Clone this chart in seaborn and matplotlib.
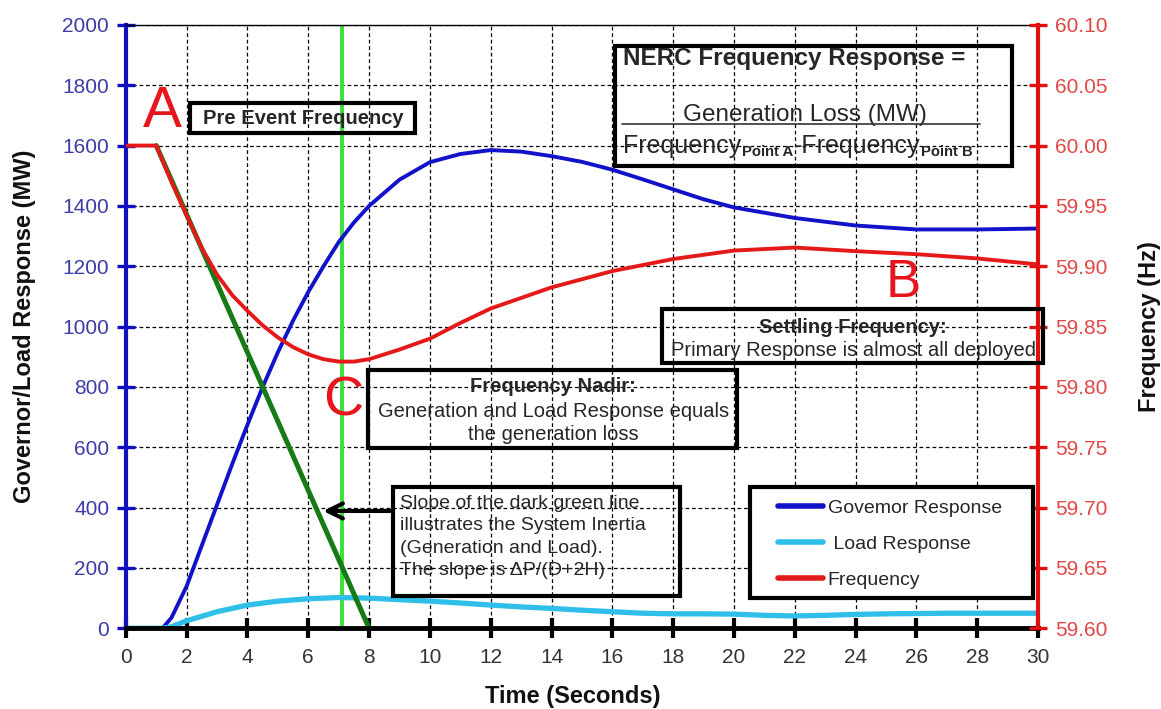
import matplotlib
matplotlib.use("Agg")
import matplotlib.pyplot as plt
import seaborn as sns
from matplotlib.patches import Rectangle
from matplotlib.lines import Line2D

# ---- series ------------------------------------------------------------
gov_time = [0, 1.2, 1.5, 2, 2.5, 3, 3.5, 4, 4.5, 5, 5.5, 6, 6.5, 7, 7.5, 8, 9, 10,
            11, 12, 13, 14, 15, 16, 17, 18, 19, 20, 22, 24, 26, 28, 30]
gov_mw = [0, 0, 35, 140, 275, 410, 545, 675, 800, 915, 1020, 1115, 1200, 1280, 1345,
          1400, 1487, 1545, 1572, 1585, 1580, 1565, 1546, 1520, 1488, 1455, 1422,
          1395, 1360, 1335, 1322, 1322, 1325]

load_time = [0, 1.2, 1.5, 2, 3, 4, 5, 6, 7, 8, 9, 10, 11, 12, 13, 14, 15, 16, 17,
             18, 19, 20, 21, 22, 23, 24, 25, 26, 27, 28, 29, 30]
load_mw = [0, 0, 5, 25, 55, 77, 90, 98, 102, 100, 95, 90, 84, 77, 71, 66, 60, 55,
           50, 48, 48, 47, 43, 41, 43, 46, 48, 49, 50, 50, 50, 50]

freq_time = [0, 1, 1.5, 2, 2.5, 3, 3.5, 4, 4.5, 5, 5.5, 6, 6.5, 7, 7.5, 8, 9, 10,
             11, 12, 14, 16, 18, 20, 22, 24, 26, 28, 30]
freq_hz = [60.00, 60.00, 59.970, 59.942, 59.915, 59.893, 59.876, 59.863, 59.851,
           59.841, 59.833, 59.827, 59.823, 59.821, 59.821, 59.823, 59.831, 59.840,
           59.853, 59.865, 59.8825, 59.896, 59.906, 59.913, 59.9155, 59.9125,
           59.910, 59.9065, 59.9015]

# system inertia line (point A down to zero) and the nadir time marker
inertia_time = [1, 8]
inertia_mw = [1600, 0]
nadir_time = 7.1

time_ticks = list(range(0, 31, 2))
mw_ticks = list(range(0, 2001, 200))
hz_ticks = [59.60, 59.65, 59.70, 59.75, 59.80, 59.85, 59.90, 59.95, 60.00, 60.05, 60.10]

legend_labels = ["Govemor Response", " Load Response", "Frequency"]

# ---- style -------------------------------------------------------------
sns.set_theme(style="white")
plt.rcParams["font.family"] = ["Liberation Sans", "DejaVu Sans"]

GOV = "#1212c8"
LOAD = "#2fbfe8"
FREQ = "#e41a1a"
DARK_GREEN = "#167a16"
LIGHT_GREEN = "#3ae03a"
BLUE_AXIS = "#1010c0"
RED_AXIS = "#e01010"
TXT = "#262626"
LETTER = "#e8141e"

fig = plt.figure(figsize=(11.61, 7.09), dpi=100)
ax = fig.add_axes([0.1084, 0.1138, 0.7857, 0.8511])
ax2 = ax.twinx()

# ---- MW axis lines -----------------------------------------------------
sns.lineplot(x=gov_time, y=gov_mw, ax=ax, color=GOV, linewidth=2.8, sort=False)
sns.lineplot(x=load_time, y=load_mw, ax=ax, color=LOAD, linewidth=3.8, sort=False)
sns.lineplot(x=inertia_time, y=inertia_mw, ax=ax, color=DARK_GREEN, linewidth=3.6, sort=False)
ax.axvline(nadir_time, color=LIGHT_GREEN, linewidth=2.8, zorder=1.9)

# ---- frequency axis line -----------------------------------------------
sns.lineplot(x=freq_time, y=freq_hz, ax=ax2, color=FREQ, linewidth=2.8, sort=False)

ax.set_xlim(0, 30)
ax.set_ylim(0, 2000)
ax2.set_ylim(59.60, 60.10)
ax.set_xticks(time_ticks)
ax.set_yticks(mw_ticks)
ax2.set_yticks(hz_ticks)
ax2.set_yticklabels([f"{v:.2f}" for v in hz_ticks])

ax.grid(True, color="black", linestyle=(0, (3, 2.2)), linewidth=0.9)
ax.set_axisbelow(True)

for s in ("left", "right", "top", "bottom"):
    ax2.spines[s].set_visible(False)
ax.spines["right"].set_visible(False)
ax2.spines["right"].set_visible(True)
ax2.spines["right"].set_color(RED_AXIS)
ax2.spines["right"].set_linewidth(3)
ax.spines["left"].set_color(BLUE_AXIS)
ax.spines["left"].set_linewidth(3)
ax.spines["bottom"].set_color("black")
ax.spines["bottom"].set_linewidth(3.5)
ax.spines["top"].set_color("black")
ax.spines["top"].set_linewidth(1)

ax.tick_params(axis="y", left=True, direction="inout", length=13, width=2.4,
               color=BLUE_AXIS, labelcolor="#3c3ca8", labelsize=15, pad=5.5)
ax.tick_params(axis="x", bottom=True, direction="inout", length=14, width=3,
               color="black", labelcolor="#333333", labelsize=15, pad=7)
ax2.tick_params(axis="y", right=True, direction="inout", length=13, width=2.4,
                color=RED_AXIS, labelcolor="#e04848", labelsize=15, pad=6)

ax.set_xlabel("Time (Seconds)", fontsize=17, fontweight="bold", color="#111111")
ax.xaxis.set_label_coords(0.49, -0.094)
ax.set_ylabel("Governor/Load Response (MW)", fontsize=17, fontweight="bold", color="#111111")
ax.yaxis.set_label_coords(-0.098, 0.5)
ax2.set_ylabel("Frequency (Hz)", fontsize=17, fontweight="bold", color="#111111")
ax2.yaxis.set_label_coords(1.1096, 0.5)

for a in (ax, ax2):
    lg = a.get_legend()
    if lg is not None:
        lg.remove()

# ---- annotations (placed in time / MW coordinates) ---------------------
tr = ax.transData


def frame(x0, y0, x1, y1, fill=False):
    r = Rectangle((x0, y0), x1 - x0, y1 - y0, transform=tr, fill=fill,
                  facecolor="white", edgecolor="black", linewidth=3,
                  clip_on=False, zorder=4)
    ax2.add_patch(r)


def label(x, y, s, size=14.5, weight="normal", ha="center", color=TXT):
    return ax2.text(x, y, s, transform=tr, fontsize=size, fontweight=weight, ha=ha,
                    va="center", color=color, zorder=6, clip_on=False)


# point letters
label(1.2, 1710, "A", size=42, color=LETTER)
label(25.56, 1145, "B", size=38, color=LETTER)
label(7.14, 751, "C", size=40, color=LETTER)

# pre event frequency
frame(2.11, 1641, 9.51, 1740)
label(5.82, 1690, "Pre Event Frequency", size=14.5, weight="bold")

# NERC definition
frame(16.09, 1532, 29.15, 1931)
label(16.35, 1890, "NERC Frequency Response =", size=17.5, weight="bold", ha="left")
label(22.32, 1701, "Generation Loss (MW)", size=17.5)
ax2.add_line(Line2D([16.32, 28.10], [1671, 1671], transform=tr, color="#333333",
                    linewidth=1.2, zorder=6))

# denominator: Frequency(Point A) - Frequency(Point B) with small bold subscripts
f1 = ax2.text(16.35, 1558, "Frequency", transform=tr, fontsize=18, ha="left",
              va="bottom", color=TXT, zorder=6)
s1 = ax2.annotate("Point A", xy=(1, 0), xycoords=f1, xytext=(0.5, 1.8),
                  textcoords="offset points", fontsize=10.7, fontweight="bold",
                  ha="left", va="baseline", color=TXT, zorder=6)
f2 = ax2.annotate("-Frequency", xy=(1, 0), xycoords=(s1, f1), xytext=(0.5, 0),
                  textcoords="offset points", fontsize=18, ha="left",
                  va="bottom", color=TXT, zorder=6)
ax2.annotate("Point B", xy=(1, 0), xycoords=f2, xytext=(0.5, 1.8),
             textcoords="offset points", fontsize=10.7, fontweight="bold",
             ha="left", va="baseline", color=TXT, zorder=6)

# settling frequency
frame(17.63, 879, 30.17, 1058)
label(23.92, 998, "Settling Frequency:", weight="bold")
label(23.92, 922, "Primary Response is almost all deployed")

# frequency nadir
frame(7.96, 598, 20.10, 856)
label(14.06, 801, "Frequency Nadir:", weight="bold")
label(14.06, 718, "Generation and Load Response equals")
label(14.06, 644, "the generation loss")

# inertia note with arrow to the dark green line
frame(8.78, 107, 18.23, 469)
slope_lines = ["Slope of the dark green line", "illustrates the System Inertia",
               "(Generation and Load).", "The slope is \u0394P/(D+2H)"]
for txt, yy in zip(slope_lines, [414, 342, 265, 192]):
    label(9.02, yy, txt, size=14, ha="left")
ax2.annotate("", xy=(6.49, 389), xytext=(8.78, 389), xycoords=tr, textcoords=tr,
             arrowprops=dict(arrowstyle="->,head_length=0.9,head_width=0.45",
                             lw=3, color="black", shrinkA=0, shrinkB=0),
             zorder=6)

# legend
frame(20.54, 99, 29.84, 469, fill=True)
handles = [Line2D([], [], color=GOV, linewidth=4),
           Line2D([], [], color=LOAD, linewidth=4),
           Line2D([], [], color=FREQ, linewidth=4)]
leg = ax2.legend(handles, legend_labels, loc="upper left",
                 bbox_to_anchor=(0.715, 0.2143), frameon=False, fontsize=14,
                 handlelength=2.3, handletextpad=0.25, labelspacing=0.95,
                 borderpad=0, borderaxespad=0)
leg.set_zorder(7)
for t in leg.get_texts():
    t.set_color(TXT)

fig.savefig("out.png", dpi=100)
